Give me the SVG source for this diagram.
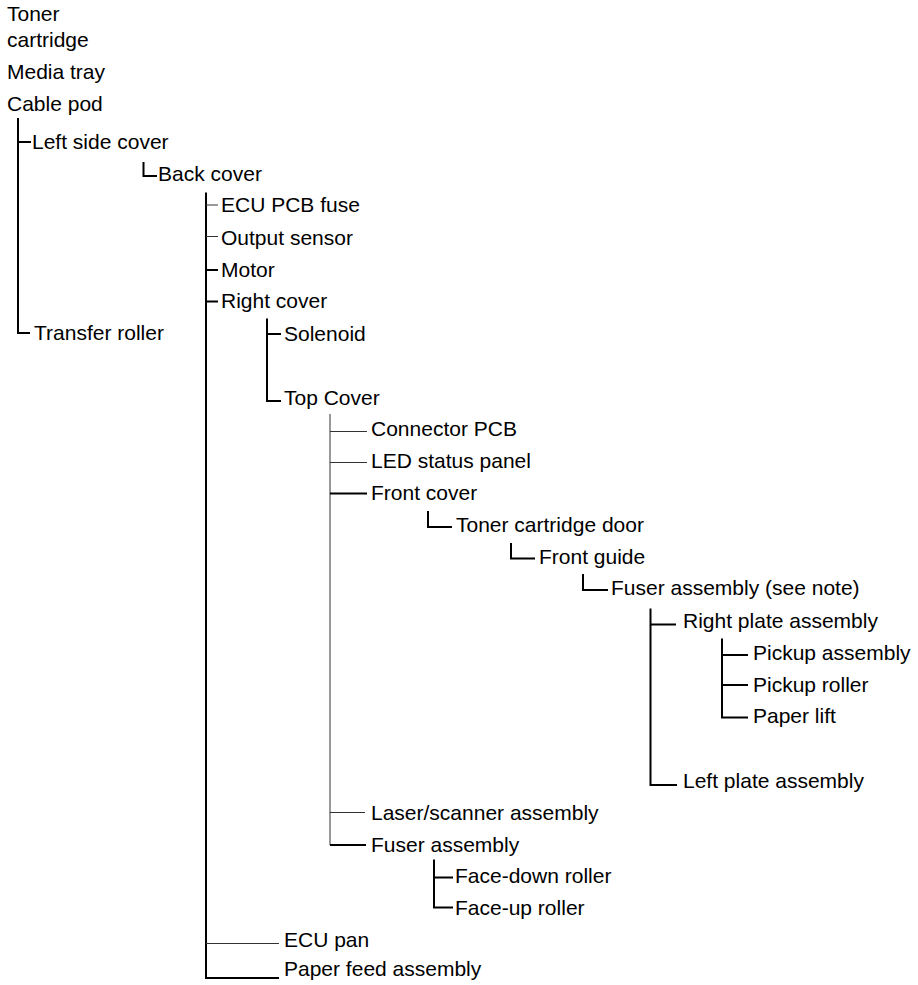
<svg xmlns="http://www.w3.org/2000/svg" width="918" height="985" viewBox="0 0 918 985">
<style>
text{font-family:"Liberation Sans",Arial,sans-serif;font-size:21px;fill:#000}
.k{stroke:#000;stroke-width:2;fill:none}
.t{stroke:#333;stroke-width:1;fill:none}
</style>
<rect width="918" height="985" fill="#fff"/>
<g id="connectors">
<path class="k" d="M18,118V333H30M18,142H31"/>
<path class="k" d="M143.5,162V176H157"/>
<path class="k" d="M206,192.5V978H279M206,270H218M206,301.5H218"/>
<path class="t" d="M206,205H218M206,236.5H218M206,943.5H279"/>
<path class="k" d="M267,318.5V401H281M267,334H281"/>
<path class="t" d="M330,414V845M330,431.5H367M330,462.5H367M330,812.5H365"/>
<path class="k" d="M330,493.5H367M330,845H366"/>
<path class="k" d="M428,511V527H452"/>
<path class="k" d="M511,543V558.5H535"/>
<path class="k" d="M583,574V590H608"/>
<path class="k" d="M650.5,608.5V785H677M650.5,624.5H676"/>
<path class="k" d="M722,638.5V717.5H748M722,655H748M722,685H748"/>
<path class="k" d="M434,859.5V907.5H453M434,877.5H453"/>
</g>
<g id="toner-cartridge"><text x="7" y="20.5">Toner</text><text x="7" y="46.5">cartridge</text></g>
<g id="media-tray"><text x="7" y="79">Media tray</text></g>
<g id="cable-pod"><text x="7" y="110.5">Cable pod</text></g>
<g id="left-side-cover"><text x="32" y="149">Left side cover</text></g>
<g id="back-cover"><text x="158" y="180.5">Back cover</text></g>
<g id="ecu-pcb-fuse"><text x="221" y="212.3">ECU PCB fuse</text></g>
<g id="output-sensor"><text x="221" y="244.5">Output sensor</text></g>
<g id="motor"><text x="221" y="276.5">Motor</text></g>
<g id="right-cover"><text x="221" y="308.3">Right cover</text></g>
<g id="solenoid"><text x="284" y="340.5">Solenoid</text></g>
<g id="transfer-roller"><text x="34" y="340">Transfer roller</text></g>
<g id="top-cover"><text x="284" y="405">Top Cover</text></g>
<g id="connector-pcb"><text x="371" y="436">Connector PCB</text></g>
<g id="led-status-panel"><text x="371" y="467.5">LED status panel</text></g>
<g id="front-cover"><text x="371" y="499.5">Front cover</text></g>
<g id="toner-cartridge-door"><text x="456" y="531.5">Toner cartridge door</text></g>
<g id="front-guide"><text x="539" y="563.5">Front guide</text></g>
<g id="fuser-assembly-note"><text x="611" y="595">Fuser assembly (see note)</text></g>
<g id="right-plate-assembly"><text x="683" y="628">Right plate assembly</text></g>
<g id="pickup-assembly"><text x="753" y="660">Pickup assembly</text></g>
<g id="pickup-roller"><text x="753" y="691.7">Pickup roller</text></g>
<g id="paper-lift"><text x="753" y="723.3">Paper lift</text></g>
<g id="left-plate-assembly"><text x="683" y="788">Left plate assembly</text></g>
<g id="laser-scanner-assembly"><text x="371" y="819.5">Laser/scanner assembly</text></g>
<g id="fuser-assembly"><text x="371" y="851.5">Fuser assembly</text></g>
<g id="face-down-roller"><text x="455" y="883.3">Face-down roller</text></g>
<g id="face-up-roller"><text x="455" y="914.5">Face-up roller</text></g>
<g id="ecu-pan"><text x="284" y="946.7">ECU pan</text></g>
<g id="paper-feed-assembly"><text x="284" y="976">Paper feed assembly</text></g>
</svg>
